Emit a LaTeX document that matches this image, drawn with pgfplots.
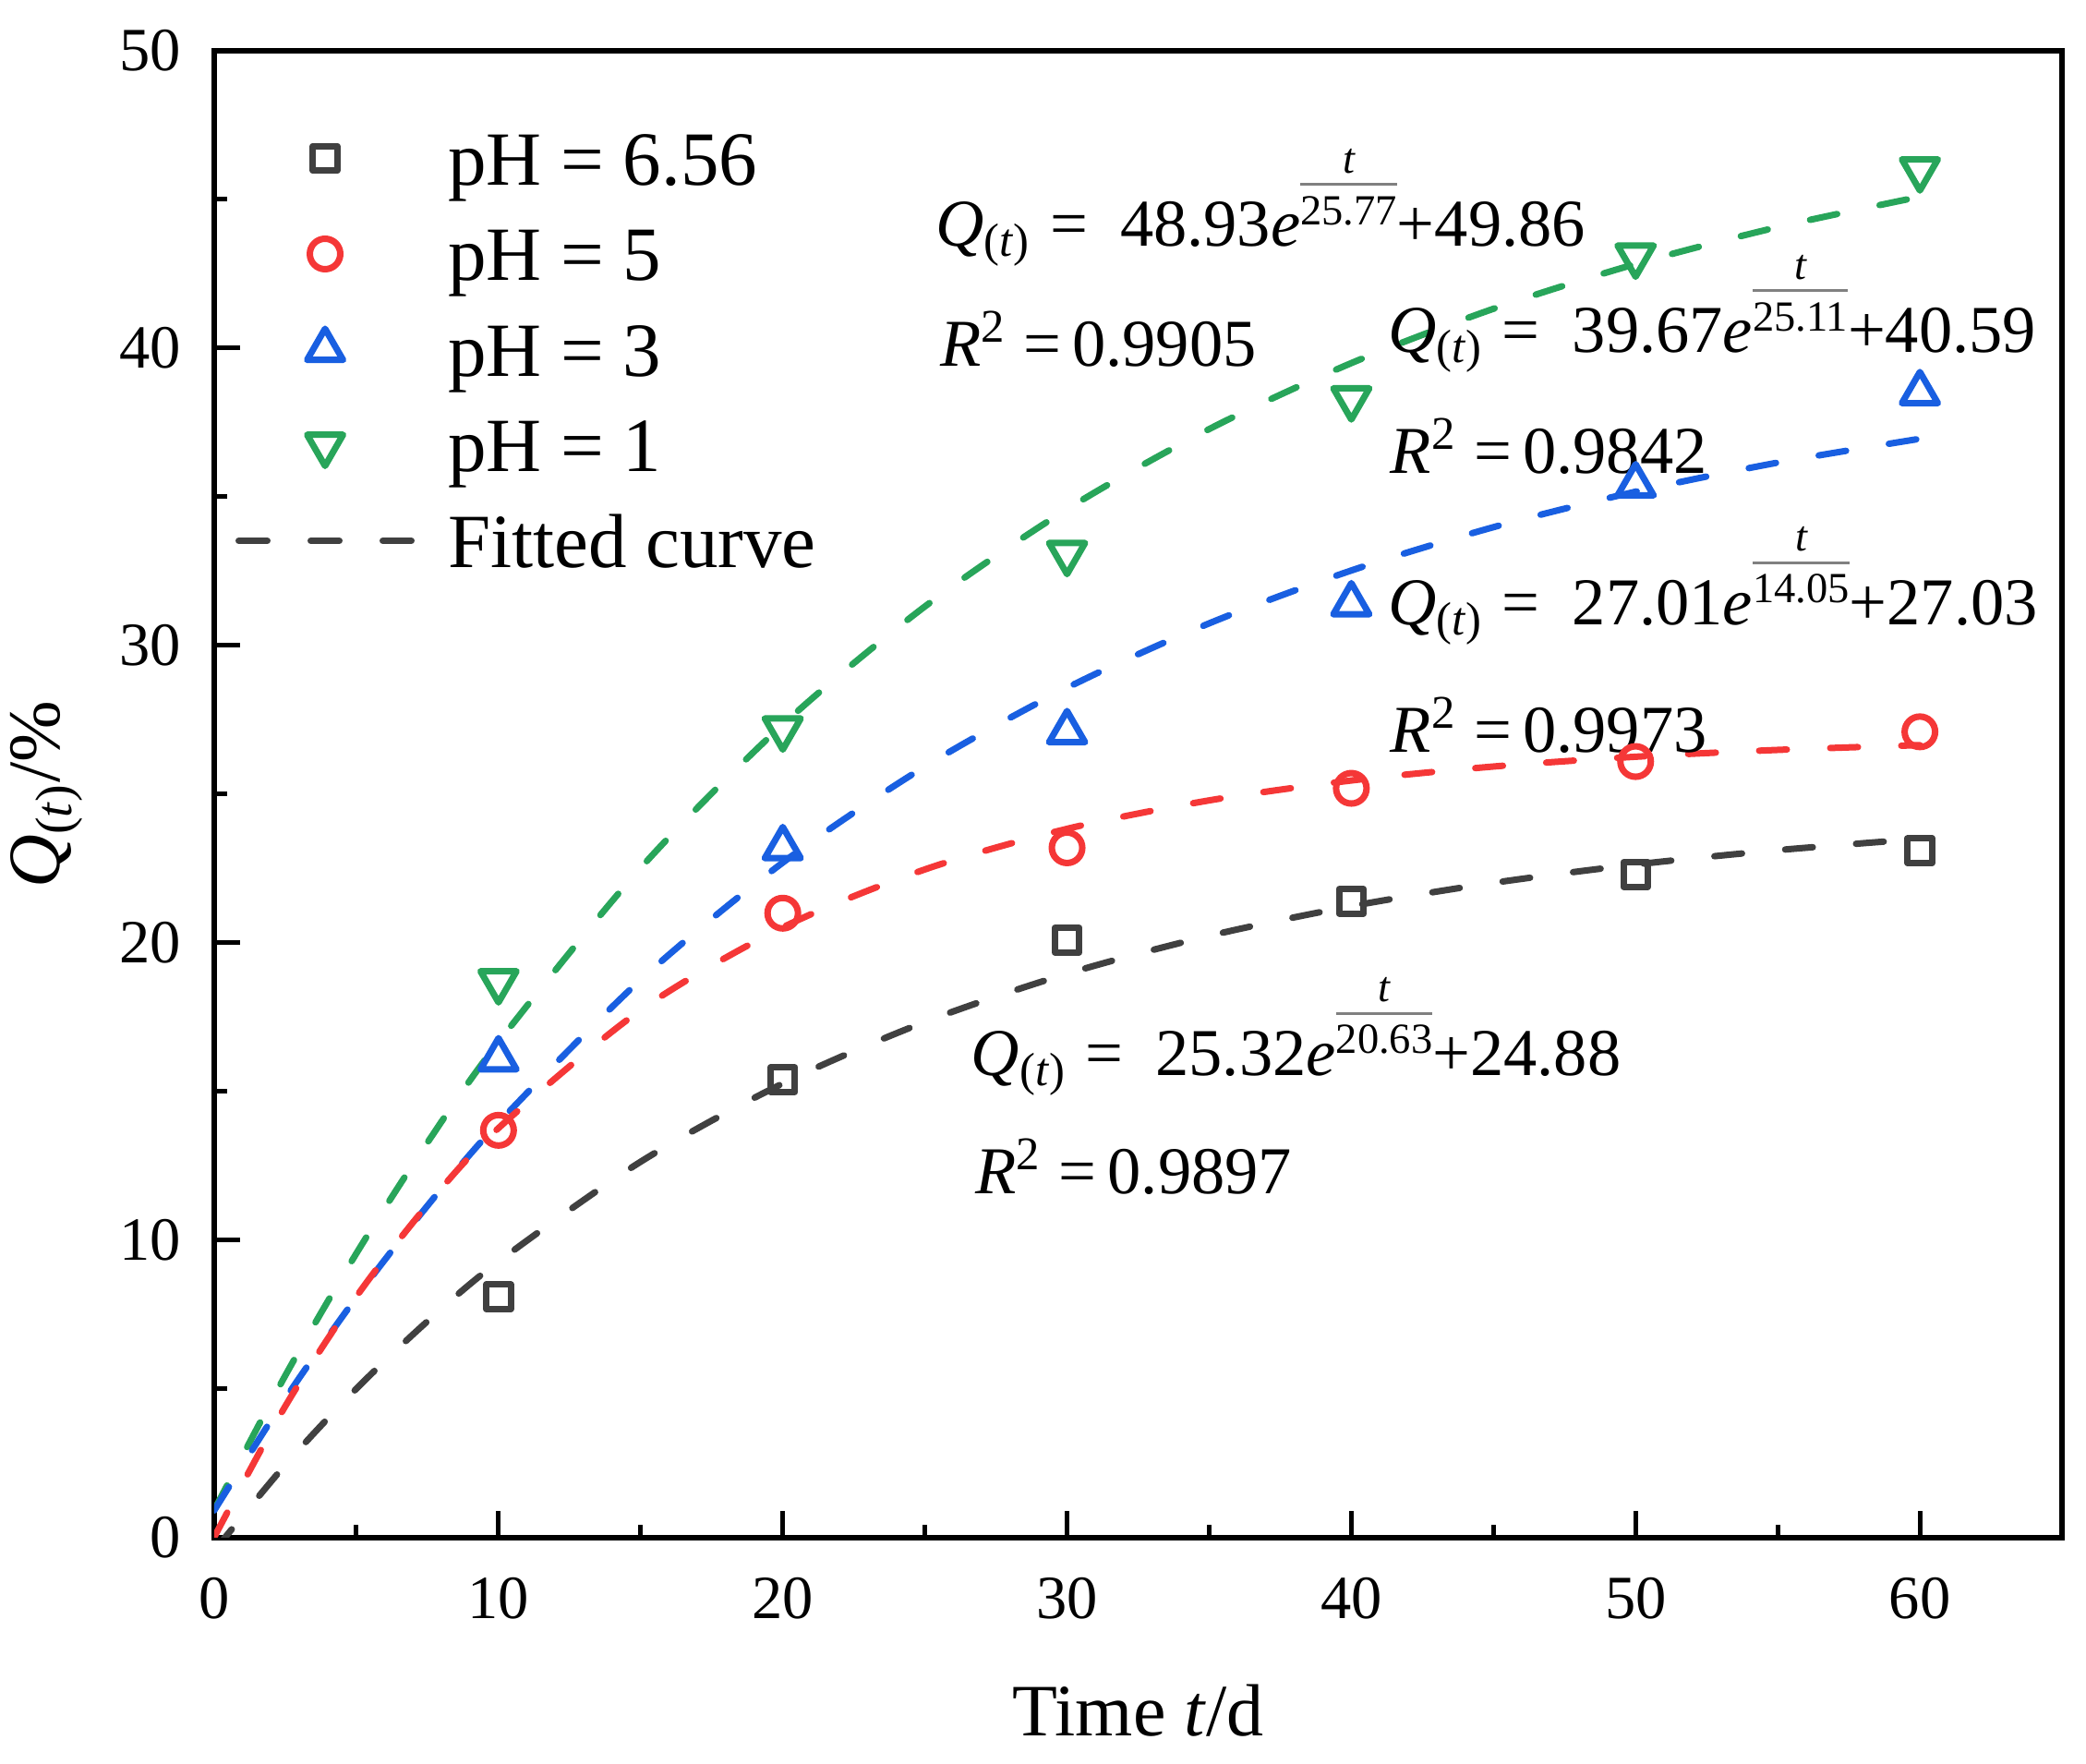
\documentclass[border=0pt]{standalone}
\usepackage{fontspec}
\setmainfont{Liberation Serif}
\usepackage{graphicx}
\usepackage{pgfplots}
\pgfplotsset{compat=1.18}
\definecolor{cK}{RGB}{64,64,64}
\definecolor{cR}{RGB}{245,55,55}
\definecolor{cB}{RGB}{25,95,225}
\definecolor{cG}{RGB}{40,165,90}
\newcommand{\eqf}{\fontsize{14.5}{16}\selectfont}
\newcommand{\Qt}{\textit{Q}\textsubscript{(\textit{t})}}
\newcommand{\ex}[1]{\raisebox{4.7pt}{\fontsize{9.3}{10}\selectfont\setbox0\hbox{#1}\rlap{\raisebox{11.2pt}{\makebox[\wd0]{\itshape t}}}\rlap{\raisebox{8.4pt}{\textcolor{gray}{\rule{\wd0}{0.6pt}}}}\box0}}
\begin{document}
\begin{tikzpicture}
\begin{axis}[
  scale only axis, width=400.2pt, height=322pt,
  xmin=0, xmax=65, ymin=0, ymax=50,
  xtick={0,10,...,60}, ytick={0,10,...,50},
  minor x tick num=1, minor y tick num=1,
  tick align=inside, xtick pos=bottom, ytick pos=left,
  major tick length=5.7pt, minor tick length=2.8pt,
  every tick/.style={black, line width=1pt},
  axis line style={line width=1.2pt},
  tick label style={font=\fontsize{13.3}{14}\selectfont},
  /pgf/number format/assume math mode=true,
  xticklabel style={anchor=base, inner sep=0pt, yshift=-17.6pt},
  yticklabel style={anchor=east, inner sep=0pt, xshift=-7pt},
  xlabel={Time \textit{t}/d}, ylabel={\Qt/\%},
  label style={font=\fontsize{16}{18}\selectfont},
  xlabel style={at={(axis description cs:0.5,-0.1335)}, anchor=base},
  ylabel style={at={(axis description cs:-0.091,0.5)}, anchor=center},
  legend cell align=left,
  legend style={at={(axis description cs:0.0115,0.950)}, anchor=north west,
    draw=none, fill=none, inner sep=0pt, outer sep=0pt,
    row sep=6.3pt, column sep=7.2pt,
    font=\fontsize{16.6}{18}\selectfont,
    nodes={inner sep=0pt, text height=13pt, text depth=1.4pt}},
  legend image code/.code={\draw[mark repeat=2,mark phase=2,#1] plot coordinates {(0pt,0pt)(18.7pt,0pt)(37.4pt,0pt)};},
  fit/.style={smooth, line width=1.4pt, line cap=round, dash pattern=on 6pt off 9.4pt},
]
% fitted curves
\addplot[fit, color=cG, forget plot] coordinates {(0,0.93)(2.5,5.454)(5,9.560)(7.5,13.286)(10,16.667)(15,22.521)(20,27.343)(25,31.314)(30,34.585)(35,37.279)(40,39.498)(45,41.325)(50,42.830)(55,44.070)(60,45.091)};
\addplot[fit, color=cB, forget plot] coordinates {(0,0.92)(2.5,4.679)(5,8.082)(7.5,11.163)(10,13.952)(15,18.761)(20,22.702)(25,25.932)(30,28.579)(35,30.747)(40,32.524)(45,33.981)(50,35.174)(55,36.152)(60,36.953)};
\addplot[fit, color=cR, forget plot] coordinates {(0,0.02)(2.5,4.423)(5,8.108)(7.5,11.192)(10,13.774)(15,17.743)(20,20.524)(25,22.472)(30,23.837)(35,24.793)(40,25.463)(45,25.932)(50,26.261)(55,26.491)(60,26.652)};
\addplot[fit, color=cK, forget plot] coordinates {(0,-0.44)(2.5,2.450)(5,5.010)(7.5,7.278)(10,9.286)(15,12.643)(20,15.276)(25,17.343)(30,18.965)(35,20.239)(40,21.237)(45,22.021)(50,22.637)(55,23.120)(60,23.499)};
% data
\addplot[only marks, mark=square, mark size=2.65pt, color=cK, mark options={line width=1.4pt, line join=round}] coordinates {(10,8.1)(20,15.4)(30,20.1)(40,21.4)(50,22.3)(60,23.1)};
\addlegendentry{pH = 6.56}
\addplot[only marks, mark=o, mark size=3.3pt, color=cR, mark options={line width=1.4pt}] coordinates {(10,13.7)(20,21.0)(30,23.2)(40,25.2)(50,26.1)(60,27.1)};
\addlegendentry{pH = 5}
\addplot[only marks, mark=triangle, mark size=4.5pt, color=cB, mark options={line width=1.4pt, line join=round}] coordinates {(10,16.1)(20,23.2)(30,27.1)(40,31.4)(50,35.4)(60,38.5)};
\addlegendentry{pH = 3}
\addplot[only marks, mark=triangle, mark size=4.5pt, color=cG, mark options={line width=1.4pt, line join=round, rotate=180}] coordinates {(10,18.7)(20,27.2)(30,33.1)(40,38.3)(50,43.1)(60,46.0)};
\addlegendentry{pH = 1}
\addlegendimage{line width=1.4pt, line cap=round, dash pattern=on 6.2pt off 9.4pt, color=cK}
\addlegendentry{Fitted curve}
% equations
\node[anchor=base west, inner sep=0pt, font=\eqf] at (axis cs:25.35,43.43) {\Qt\hspace{4pt}=\hspace{7pt}48.93\textit{e}\ex{25.77}+49.86};
\node[anchor=base west, inner sep=0pt, font=\eqf] at (axis cs:25.5,39.4) {\textit{R}\textsuperscript{2} =\,0.9905};
\node[anchor=base west, inner sep=0pt, font=\eqf] at (axis cs:41.26,39.85) {\Qt\hspace{4pt}=\hspace{7pt}39.67\textit{e}\ex{25.11}+40.59};
\node[anchor=base west, inner sep=0pt, font=\eqf] at (axis cs:41.35,35.8) {\textit{R}\textsuperscript{2} =\,0.9842};
\node[anchor=base west, inner sep=0pt, font=\eqf] at (axis cs:41.26,30.7) {\Qt\hspace{4pt}=\hspace{7pt}27.01\textit{e}\ex{14.05}+27.03};
\node[anchor=base west, inner sep=0pt, font=\eqf] at (axis cs:41.35,26.4) {\textit{R}\textsuperscript{2} =\,0.9973};
\node[anchor=base west, inner sep=0pt, font=\eqf] at (axis cs:26.6,15.55) {\Qt\hspace{4pt}=\hspace{7pt}25.32\textit{e}\ex{20.63}+24.88};
\node[anchor=base west, inner sep=0pt, font=\eqf] at (axis cs:26.75,11.57) {\textit{R}\textsuperscript{2} =\,0.9897};
\end{axis}
\pgfresetboundingbox
\useasboundingbox (-46.4pt,-49pt) rectangle (405.4pt,333pt);
\end{tikzpicture}
\end{document}
